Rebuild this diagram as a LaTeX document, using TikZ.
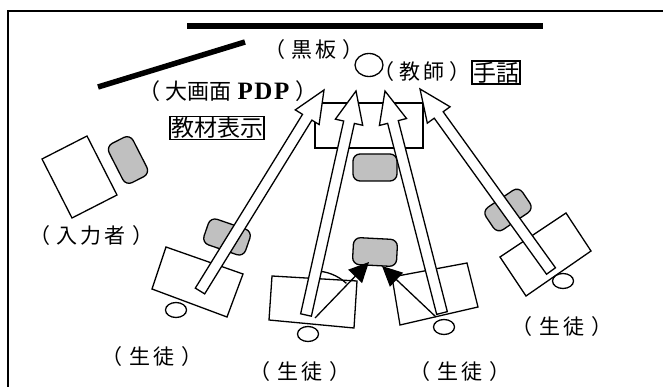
\documentclass[tikz,border=0pt]{standalone}
\usepackage{fontspec}
\setmainfont{Liberation Serif}
\newfontfamily\jp{Noto Sans CJK JP}
\usetikzlibrary{calc,arrows.meta,shapes.geometric}
\definecolor{chairgray}{RGB}{192,192,192}
\tikzset{
  outl/.style={line width=1.3pt},
  chair/.style={draw, line width=1.3pt, fill=chairgray, rounded corners=7pt, minimum width=44pt, minimum height=27pt, inner sep=0pt},
  person/.style={draw, line width=1.3pt, ellipse, minimum width=21pt, minimum height=15pt, inner sep=0pt},
  hollow/.style={draw, fill=white, line width=1.3pt, line join=miter},
  sight/.style={line width=1.3pt, -{Triangle[length=20pt,width=19pt]}},
  lbl/.style={font=\jp\fontsize{21}{21}\selectfont, inner sep=0pt},
  boxlbl/.style={draw, line width=1.3pt, font=\jp\fontsize{23}{23}\selectfont, inner sep=1pt},
}
\newcommand{\harrow}[3]{%
  \coordinate (#3n) at ($(#2)!32pt!(#1)$);
  \draw[hollow] ($(#1)!5.5pt!-90:(#2)$) -- ($(#3n)!5.5pt!-90:(#2)$) -- ($(#3n)!14pt!-90:(#2)$) -- (#2)
     -- ($(#3n)!14pt!90:(#2)$) -- ($(#3n)!5.5pt!90:(#2)$) -- ($(#1)!5.5pt!90:(#2)$) -- cycle;}
\begin{document}
\begin{tikzpicture}[x=1pt,y=-1pt]
\useasboundingbox (0,0) rectangle (663,387);
\fill[white] (0,0) rectangle (663,387);
% frame
\coordinate (fbl) at (8,392);
\coordinate (ftl) at (8,11);
\coordinate (ftr) at (668,11);
\draw[line width=1.4pt] (fbl) -- (ftl) -- (ftr);
% blackboard and PDP
\coordinate (bb1) at (187,26);
\coordinate (bb2) at (543,26);
\draw[line width=6pt] (bb1) -- (bb2);
\coordinate (pdp1) at (98,87);
\coordinate (pdp2) at (245,42);
\draw[line width=5.5pt] (pdp1) -- (pdp2);
% front table and teacher
\node[draw, outl, minimum width=108pt, minimum height=45pt, inner sep=0pt] (table) at (369,125.5) {};
\node[person, minimum width=28pt, minimum height=23pt] (teacher) at (369,65) {};
% chairs / displays
\node[chair, rotate=-63] (cin) at (128,160) {};
\node[chair, rotate=-19] (c1) at (227,237) {};
\node[chair] (cc) at (375,167.5) {};
\node[chair, rotate=-3] (c2) at (375,252) {};
\node[chair, rotate=34] (c4) at (508,210) {};
% desks
\draw[outl] (42,159) -- (87,136) -- (117,195) -- (72,218) -- cycle;
\draw[outl] (166,247) -- (243,274) -- (227,317) -- (152,289) -- cycle;
\draw[outl] (272,276) -- (357,281) -- (354,328) -- (269,320) -- cycle;
\draw[outl] (392,277) -- (467,263) -- (478,307) -- (400,325) -- cycle;
\draw[outl] (500,257) -- (566,213) -- (591,251) -- (526,296) -- cycle;
% students
\node[person] (p1) at (176,310) {};
\node[person] (p2) at (308,334) {};
\node[person] (p3) at (444,327) {};
\node[person] (p4) at (563,281) {};
% angle arc
\coordinate (arcs) at (315,271);
\draw[outl] (arcs) arc[start angle=-90, end angle=-47, radius=46];
% hollow arrows
\coordinate (t1) at (200,291); \coordinate (h1) at (324,90);
\coordinate (t2) at (306,315); \coordinate (h2) at (356,91);
\coordinate (t3) at (442,313); \coordinate (h3) at (385,91);
\coordinate (t4) at (551,271); \coordinate (h4) at (420,89);
\harrow{t1}{h1}{a1}
\harrow{t2}{h2}{a2}
\harrow{t3}{h3}{a3}
\harrow{t4}{h4}{a4}
% sight lines
\coordinate (s2) at (315,318); \coordinate (e2) at (369,262);
\coordinate (s3) at (436,317); \coordinate (e3) at (382,266);
\draw[sight] (s2) -- (e2);
\draw[sight] (s3) -- (e3);
% labels
\node[lbl] (lbb) at (314,50) {（\hspace{6pt}黒\hspace{3pt}板\hspace{6pt}）};
\node[lbl, font=\jp\fontsize{22}{22}\selectfont] (lpdp) at (228,91) {（\hspace{5pt}大画面\hspace{6pt}{\fontsize{25}{25}\selectfont\rmfamily\bfseries P\hspace{1.5pt}D\hspace{1.5pt}P}\hspace{6pt}）};
\node[boxlbl] (lkz) at (217,128) {教材表示};
\node[lbl] (lts) at (422,72) {（\hspace{5pt}教\hspace{3pt}師\hspace{5pt}）};
\node[boxlbl] (lsw) at (496,72.5) {手話};
\node[lbl] (lin) at (91.5,236) {（\hspace{7pt}入\hspace{3pt}力\hspace{3pt}者\hspace{7pt}）};
\node[lbl] (ls1) at (152,357) {（\hspace{7pt}生\hspace{3pt}徒\hspace{7pt}）};
\node[lbl] (ls2) at (300,372) {（\hspace{7pt}生\hspace{3pt}徒\hspace{7pt}）};
\node[lbl] (ls3) at (460,372) {（\hspace{7pt}生\hspace{3pt}徒\hspace{7pt}）};
\node[lbl] (ls4) at (562,327) {（\hspace{7pt}生\hspace{3pt}徒\hspace{7pt}）};
\end{tikzpicture}
\end{document}
